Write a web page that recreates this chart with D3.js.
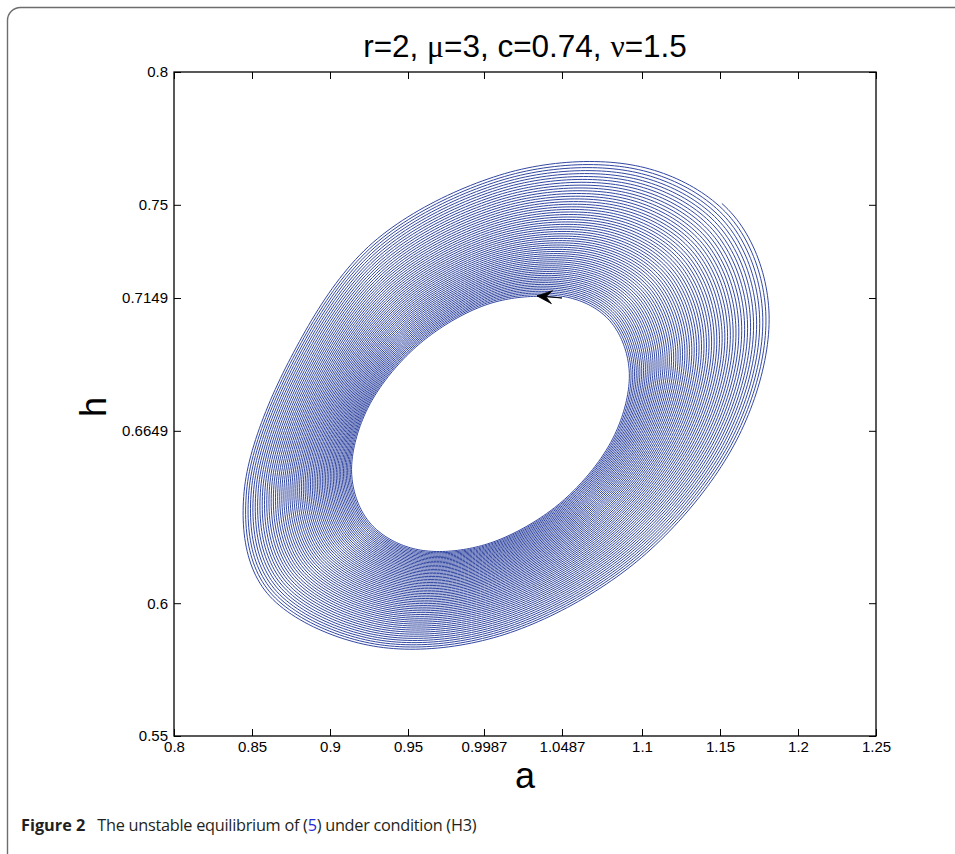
<!DOCTYPE html>
<html>
<head>
<meta charset="utf-8">
<script src="https://cdn.jsdelivr.net/npm/d3@7"></script>
<style>
  body { margin: 0; background: #fff; }
  svg { display: block; }
</style>
</head>
<body>
<svg id="fig" width="955" height="854"></svg>
<script>
// Axis ticks
const xTicks = [0.8, 0.85, 0.9, 0.95, 0.9987, 1.0487, 1.1, 1.15, 1.2, 1.25];
const xTickLabels = ["0.8", "0.85", "0.9", "0.95", "0.9987", "1.0487", "1.1", "1.15", "1.2", "1.25"];
const yTicks = [0.55, 0.6, 0.6649, 0.7149, 0.75, 0.8];
const yTickLabels = ["0.55", "0.6", "0.6649", "0.7149", "0.75", "0.8"];

// Equilibrium and initial condition of the trajectory
const equilibrium = [0.9987, 0.6649];
const startPoint = [1.0487, 0.7149];
const arrowTip = [1.0327, 0.7157];

// First winding of the orbit (a, h), sampled every 30 degrees, counter-clockwise
const innerOrbit = [
  [1.0910, 0.6853], [1.0792, 0.7054], [1.0487, 0.7149], [1.0026, 0.7128],
  [0.9583, 0.6980], [0.9260, 0.6752], [0.9141, 0.6504], [0.9260, 0.6303],
  [0.9583, 0.6202], [1.0026, 0.6229], [1.0468, 0.6377], [1.0792, 0.6605]
];
// Last winding of the orbit, same sampling
const outerOrbit = [
  [1.1817, 0.7068], [1.1590, 0.7458], [1.0970, 0.7658], [1.0122, 0.7627],
  [0.9269, 0.7364], [0.8724, 0.6908], [0.8440, 0.6419], [0.8590, 0.6034],
  [0.9274, 0.5835], [1.0122, 0.5880], [1.0970, 0.6156], [1.1590, 0.6592]
];
const turns = 60;          // number of windings between first and last
const startIndex = 2;      // sample where the trajectory starts
const endShortfall = 25;   // degrees the last winding stops short of a full turn
const growth = 1.9;        // radial growth of the orbit over the whole run

const svg = d3.select("#fig");
const plot = { left: 174, right: 876, top: 72, bottom: 736 };

const x = d3.scaleLinear().domain([0.8, 1.25]).range([plot.left, plot.right]);
const y = d3.scaleLinear().domain([0.55, 0.8]).range([plot.bottom, plot.top]);

// Figure frame
svg.append("rect")
  .attr("x", 7.5).attr("y", 7.5)
  .attr("width", 970).attr("height", 860)
  .attr("rx", 13).attr("ry", 13)
  .attr("fill", "none").attr("stroke", "#6d6d6d").attr("stroke-width", 1.4);

// Trajectory: blend the first and last windings along a growing spiral
function catmull(p0, p1, p2, p3, t) {
  const t2 = t * t, t3 = t2 * t;
  return 0.5 * (2 * p1 + (-p0 + p2) * t + (2 * p0 - 5 * p1 + 4 * p2 - p3) * t2 + (-p0 + 3 * p1 - 3 * p2 + p3) * t3);
}
function onLoop(L, f) {
  const n = L.length, i = Math.floor(f), t = f - i;
  const g = k => L[((k % n) + n) % n];
  return [0, 1].map(j => catmull(g(i - 1)[j], g(i)[j], g(i + 1)[j], g(i + 2)[j], t));
}
const n = innerOrbit.length;
const span = turns * n - endShortfall / (360 / n);
const sub = 24;
const traj = [];
for (let k = 0; k <= Math.round(span * sub); k++) {
  const f = k / sub;
  const s = f / span;
  const w = (Math.pow(growth, s) - 1) / (growth - 1);
  const pi = onLoop(innerOrbit, startIndex + f);
  const po = onLoop(outerOrbit, startIndex + f);
  traj.push([pi[0] * (1 - w) + po[0] * w, pi[1] * (1 - w) + po[1] * w]);
}
traj[0] = startPoint;

svg.append("path")
  .datum(traj)
  .attr("d", d3.line().x(d => x(d[0])).y(d => y(d[1])))
  .attr("fill", "none")
  .attr("stroke", "#3247a2")
  .attr("stroke-width", 1);

// Direction arrow at the initial point
const tip = [x(arrowTip[0]), y(arrowTip[1])];
const tail = [x(startPoint[0]), y(startPoint[1])];
const ang = Math.atan2(tail[1] - tip[1], tail[0] - tip[0]);
const rot = (dx, dy) => [tip[0] + dx * Math.cos(ang) - dy * Math.sin(ang), tip[1] + dx * Math.sin(ang) + dy * Math.cos(ang)];
svg.append("line")
  .attr("x1", tail[0]).attr("y1", tail[1]).attr("x2", tip[0]).attr("y2", tip[1])
  .attr("stroke", "#000").attr("stroke-width", 1.2);
svg.append("path")
  .attr("d", "M" + [rot(0, 0), rot(15, -6.5), rot(9, 0), rot(15, 6.5)].map(p => p.join(",")).join("L") + "Z")
  .attr("fill", "#000").attr("stroke", "#000").attr("stroke-width", 0.8).attr("stroke-linejoin", "miter");

// Axes (ticks inward, mirrored on top and right)
const tickFont = "'Liberation Sans', Arial, sans-serif";
const gx = svg.append("g").attr("transform", `translate(0,${plot.bottom})`)
  .call(d3.axisBottom(x).tickValues(xTicks).tickFormat((d, i) => xTickLabels[i]).tickSizeInner(-7).tickSizeOuter(0).tickPadding(5));
const gxt = svg.append("g").attr("transform", `translate(0,${plot.top})`)
  .call(d3.axisTop(x).tickValues(xTicks).tickFormat("").tickSizeInner(-7).tickSizeOuter(0));
const gy = svg.append("g").attr("transform", `translate(${plot.left},0)`)
  .call(d3.axisLeft(y).tickValues(yTicks).tickFormat((d, i) => yTickLabels[i]).tickSizeInner(-7).tickSizeOuter(0).tickPadding(6));
const gyr = svg.append("g").attr("transform", `translate(${plot.right},0)`)
  .call(d3.axisRight(y).tickValues(yTicks).tickFormat("").tickSizeInner(-7).tickSizeOuter(0));
[gx, gxt, gy, gyr].forEach(g => {
  g.select(".domain").remove();
  g.selectAll("line").attr("stroke", "#000").attr("stroke-width", 1);
  g.selectAll("text").attr("fill", "#000").style("font-family", tickFont).style("font-size", "15px");
});

svg.append("rect")
  .attr("x", plot.left).attr("y", plot.top)
  .attr("width", plot.right - plot.left).attr("height", plot.bottom - plot.top)
  .attr("fill", "none").attr("stroke", "#000").attr("stroke-width", 1.3);

// Title
const title = svg.append("text")
  .attr("x", 525).attr("y", 57).attr("text-anchor", "middle")
  .style("font-family", tickFont).style("font-size", "31.5px").attr("fill", "#000");
title.append("tspan").text("r=2, ");
title.append("tspan").style("font-family", "'Liberation Serif', serif").text("μ");
title.append("tspan").text("=3, c=0.74, ");
title.append("tspan").style("font-family", "'Liberation Serif', serif").text("ν");
title.append("tspan").text("=1.5");

// Axis labels
svg.append("text")
  .attr("x", 525).attr("y", 788).attr("text-anchor", "middle")
  .style("font-family", tickFont).style("font-size", "36px").text("a");
svg.append("text")
  .attr("transform", "translate(106,407) rotate(-90)").attr("text-anchor", "middle")
  .style("font-family", tickFont).style("font-size", "36px").text("h");

// Caption
const cap = svg.append("text")
  .attr("x", 21).attr("y", 831)
  .style("font-family", "'Open Sans', 'Noto Sans', sans-serif").style("font-size", "16.3px").attr("fill", "#231f20");
cap.append("tspan").style("font-weight", "bold").text("Figure 2");
const capBody = [
  { t: "The unstable equilibrium of (", c: "#231f20" },
  { t: "5", c: "#2a2ad4" },
  { t: ") under condition (H3)", c: "#231f20" }
];
capBody.forEach((d, i) => {
  cap.append("tspan").attr("dx", i === 0 ? 12 : 0).attr("fill", d.c)
    .style("letter-spacing", "-0.27px").text(d.t);
});
</script>
</body>
</html>
